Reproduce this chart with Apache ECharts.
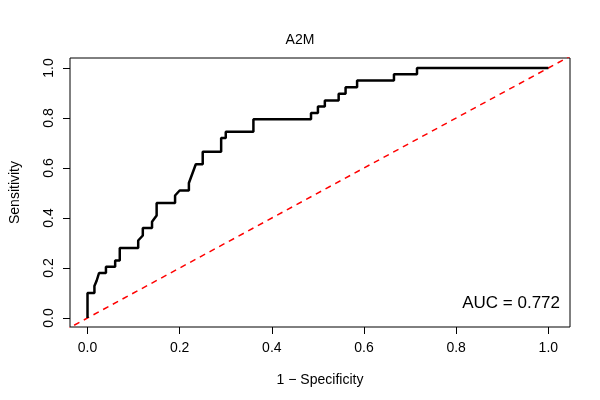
<!DOCTYPE html>
<html>
<head>
<meta charset="utf-8">
<script src="https://cdn.jsdelivr.net/npm/echarts@6/dist/echarts.min.js"></script>
<style>html,body{margin:0;padding:0;background:#fff}#chart{width:600px;height:400px}</style>
</head>
<body>
<div id="chart"></div>
<script>
// ROC curve points: 1 - specificity, sensitivity
let roc_fpr = [0, 0, 0.015, 0.015, 0.02, 0.025, 0.04, 0.04, 0.06, 0.06, 0.07, 0.07, 0.11, 0.11, 0.12, 0.12, 0.14, 0.14, 0.15, 0.15, 0.19, 0.19, 0.2, 0.22, 0.22, 0.23, 0.235, 0.25, 0.25, 0.29, 0.29, 0.30, 0.30, 0.36, 0.36, 0.485, 0.485, 0.50, 0.50, 0.515, 0.515, 0.545, 0.545, 0.56, 0.56, 0.585, 0.585, 0.665, 0.665, 0.715, 0.715, 1];
let roc_tpr = [0, 0.1, 0.1, 0.128, 0.15, 0.18, 0.18, 0.205, 0.205, 0.23, 0.23, 0.28, 0.28, 0.31, 0.33, 0.36, 0.36, 0.385, 0.41, 0.46, 0.46, 0.49, 0.51, 0.51, 0.54, 0.59, 0.615, 0.615, 0.665, 0.665, 0.72, 0.72, 0.745, 0.745, 0.795, 0.795, 0.82, 0.82, 0.846, 0.846, 0.87, 0.87, 0.897, 0.897, 0.923, 0.923, 0.95, 0.95, 0.975, 0.975, 1, 1];
let tick_values = [0, 0.2, 0.4, 0.6, 0.8, 1.0];
let auc_text = 'AUC = 0.772';

let chart = echarts.init(document.getElementById('chart'));
let font = 'Liberation Sans, Arial, sans-serif';
let tick_fmt = function (v) { return v.toFixed(1); };

chart.setOption({
    animation: false,
    title: {
        text: 'A2M',
        left: 'center',
        top: 28,
        textStyle: { fontFamily: font, fontSize: 14, fontWeight: 'normal', color: '#000' }
    },
    grid: {
        left: 60, right: 30, top: 58, bottom: 73,
        show: true, borderColor: '#000', borderWidth: 1
    },
    graphic: [{
        type: 'text',
        right: 40,
        bottom: 88,
        style: { text: auc_text, fontFamily: font, fontSize: 17, fill: '#000' }
    }],
    xAxis: {
        type: 'value',
        min: -0.038, max: 1.047,
        name: '1 − Specificity',
        nameLocation: 'middle',
        nameGap: 46,
        nameTextStyle: { fontFamily: font, fontSize: 14, color: '#000' },
        axisLine: { show: false, onZero: false },
        splitLine: { show: false },
        axisTick: { show: true, length: 7, customValues: tick_values, lineStyle: { color: '#000' } },
        axisLabel: { customValues: tick_values, formatter: tick_fmt, margin: 14, fontFamily: font, fontSize: 14, color: '#000' }
    },
    yAxis: {
        type: 'value',
        min: -0.036, max: 1.04,
        name: 'Sensitivity',
        nameLocation: 'middle',
        nameGap: 48,
        nameTextStyle: { fontFamily: font, fontSize: 14, color: '#000' },
        axisLine: { show: false, onZero: false },
        splitLine: { show: false },
        axisTick: { show: true, length: 7, customValues: tick_values, lineStyle: { color: '#000' } },
        axisLabel: { customValues: tick_values, formatter: tick_fmt, rotate: 90, margin: 14, fontFamily: font, fontSize: 14, color: '#000' }
    },
    series: [
        {
            type: 'line',
            data: [[-0.05, -0.05], [1.1, 1.1]],
            symbol: 'none',
            clip: true,
            lineStyle: { color: '#ff0000', width: 1.5, type: [6, 5] },
            silent: true
        },
        {
            type: 'line',
            data: roc_fpr.map(function (x, i) { return [x, roc_tpr[i]]; }),
            symbol: 'none',
            lineStyle: { color: '#000', width: 2.5 }
        }
    ]
});
</script>
</body>
</html>
